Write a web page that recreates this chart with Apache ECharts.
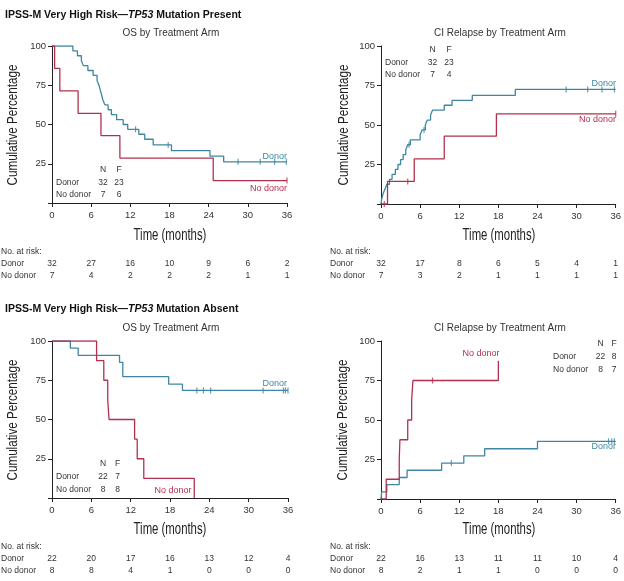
<!DOCTYPE html>
<html>
<head>
<meta charset="utf-8">
<script src="https://cdn.jsdelivr.net/npm/echarts@6/dist/echarts.min.js"></script>
<style>html,body{margin:0;padding:0;background:#fff}#c{width:624px;height:581px}</style>
</head>
<body>
<div id="c"></div>
<script>
// ---------- DATA ----------
const xTicks = [0, 6, 12, 18, 24, 30, 36];

// Panel A: TP53 present, OS
const osPresDonorT = [0, 3.2, 3.9, 4.5, 4.8, 5.5, 6.3, 6.9, 7.2, 7.4, 7.6, 7.8, 8.1, 8.6, 9.1, 9.9, 10.9, 11.6, 13.3, 14.2, 15.5, 18.3, 24.2, 26.3, 36];
const osPresDonorS = [100, 96.9, 93.8, 90.6, 87.5, 84.4, 81.3, 78.1, 75, 71.9, 68.8, 65.6, 62.5, 59.4, 56.3, 53.1, 50, 46.9, 43.8, 40.6, 37.0, 33.4, 29.8, 26.2, 26.2];
const osPresDonorCens = [12.8, 17.8, 28.5, 31.9, 34.1, 35.9];
const osPresNoT = [0, 0.4, 1.2, 4.0, 7.5, 10.4, 24.7, 36];
const osPresNoS = [100, 85.7, 71.4, 57.1, 42.9, 28.6, 14.3, 14.3];
const osPresNoCens = [36];

// Panel B: TP53 present, CI relapse
const ciPresDonorT = [0, 0.1, 0.3, 0.6, 0.9, 1.3, 1.7, 2.2, 2.6, 3.0, 3.4, 3.8, 4.1, 4.5, 6.0, 6.3, 6.8, 7.1, 7.6, 7.9, 9.7, 10.9, 14.0, 20.6, 36];
const ciPresDonorV = [0, 3.1, 6.3, 9.4, 12.5, 15.6, 18.8, 21.9, 25, 28.1, 31.3, 34.4, 37.5, 40.6, 43.8, 46.9, 50, 53.1, 56.3, 59.4, 62.5, 65.6, 68.7, 72.5, 72.5];
const ciPresDonorCens = [4.3, 6.6, 28.4, 31.7, 33.9, 35.8];
const ciPresNoT = [0, 1.0, 5.1, 9.7, 17.7, 36];
const ciPresNoV = [0, 14.3, 28.6, 42.9, 57.1, 57.1];
const ciPresNoCens = [0.5, 4.1, 36];

// Panel C: TP53 absent, OS
const osAbsDonorT = [0, 2.8, 4.0, 10.3, 10.8, 17.8, 19.9, 36];
const osAbsDonorS = [100, 95.5, 90.9, 86.4, 77.3, 72.5, 68.5, 68.5];
const osAbsDonorCens = [22.1, 23.1, 24.2, 32.2, 35.3, 35.6, 36];
const osAbsNoT = [0, 6.8, 7.9, 8.5, 8.7, 12.6, 13.0, 14.0, 21.7];
const osAbsNoS = [100, 87.5, 75, 62.5, 50, 37.5, 25, 12.5, 0];
const osAbsNoCens = [];

// Panel D: TP53 absent, CI relapse
const ciAbsDonorT = [0, 0.1, 0.9, 2.8, 4.0, 9.3, 12.7, 15.9, 24.0, 36];
const ciAbsDonorV = [0, 4.5, 9.1, 13.6, 18.2, 22.7, 27.3, 31.8, 36.5, 36.5];
const ciAbsDonorCens = [10.8, 34.9, 35.4, 35.8];
const ciAbsNoT = [0, 0.8, 2.8, 2.9, 4.1, 4.7, 4.9, 18.0];
const ciAbsNoV = [0, 12.5, 25, 37.5, 50, 62.5, 75, 87.5];
const ciAbsNoCens = [7.9];

// Numbers at risk
const riskA_donor = [32, 27, 16, 10, 9, 6, 2];
const riskA_no = [7, 4, 2, 2, 2, 1, 1];
const riskB_donor = [32, 17, 8, 6, 5, 4, 1];
const riskB_no = [7, 3, 2, 1, 1, 1, 1];
const riskC_donor = [22, 20, 17, 16, 13, 12, 4];
const riskC_no = [8, 8, 4, 1, 0, 0, 0];
const riskD_donor = [22, 16, 13, 11, 11, 10, 4];
const riskD_no = [8, 2, 1, 1, 0, 0, 0];

// N / F
const nfA = { donor: [32, 23], no: [7, 6] };
const nfB = { donor: [32, 23], no: [7, 4] };
const nfC = { donor: [22, 7], no: [8, 8] };
const nfD = { donor: [22, 8], no: [8, 7] };

const titleTop = ['IPSS-M Very High Risk\u2014', 'TP53', ' Mutation Present'];
const titleBottom = ['IPSS-M Very High Risk\u2014', 'TP53', ' Mutation Absent'];
const subOS = 'OS by Treatment Arm';
const subCI = 'CI Relapse by Treatment Arm';

// ---------- STYLE ----------
const TEAL = '#3f86a2';
const RED = '#b3304d';
const AX = '#222';
const TXT = '#333';
const FONT = '"Liberation Sans", Arial, sans-serif';

const grids = [
  { left: 52, top: 46, width: 235, height: 157 },
  { left: 381, top: 46, width: 236, height: 158 },
  { left: 52, top: 341, width: 236, height: 157 },
  { left: 381, top: 341, width: 236, height: 158 }
];

function zip(t, v) { return t.map((x, i) => [x, v[i]]); }
function stepAt(t, v, x) { let y = v[0]; for (let i = 0; i < t.length; i++) { if (t[i] <= x) y = v[i]; } return y; }

function curve(gi, t, v, color) {
  return { type: 'line', xAxisIndex: gi, yAxisIndex: gi, data: zip(t, v), step: 'end', showSymbol: false, symbol: 'none',
    lineStyle: { color, width: 1.3 }, animation: false, z: 3 };
}
function cens(gi, t, v, ct, color) {
  return { type: 'scatter', xAxisIndex: gi, yAxisIndex: gi, data: ct.map(x => [x, stepAt(t, v, x)]),
    symbol: 'rect', symbolSize: [1.2, 6], itemStyle: { color }, animation: false, z: 4 };
}

const series = [
  curve(0, osPresDonorT, osPresDonorS, TEAL), cens(0, osPresDonorT, osPresDonorS, osPresDonorCens, TEAL),
  curve(0, osPresNoT, osPresNoS, RED), cens(0, osPresNoT, osPresNoS, osPresNoCens, RED),
  curve(1, ciPresDonorT, ciPresDonorV, TEAL), cens(1, ciPresDonorT, ciPresDonorV, ciPresDonorCens, TEAL),
  curve(1, ciPresNoT, ciPresNoV, RED), cens(1, ciPresNoT, ciPresNoV, ciPresNoCens, RED),
  curve(2, osAbsDonorT, osAbsDonorS, TEAL), cens(2, osAbsDonorT, osAbsDonorS, osAbsDonorCens, TEAL),
  curve(2, osAbsNoT, osAbsNoS, RED), cens(2, osAbsNoT, osAbsNoS, osAbsNoCens, RED),
  curve(3, ciAbsDonorT, ciAbsDonorV, TEAL), cens(3, ciAbsDonorT, ciAbsDonorV, ciAbsDonorCens, TEAL),
  curve(3, ciAbsNoT, ciAbsNoV, RED), cens(3, ciAbsNoT, ciAbsNoV, ciAbsNoCens, RED)
];

const xAxis = grids.map((g, i) => ({
  type: 'value', gridIndex: i, min: 0, max: 36, interval: 6,
  axisLine: { show: true, lineStyle: { color: AX, width: 1 } },
  axisTick: { show: true, length: 4, lineStyle: { color: AX } },
  axisLabel: { fontSize: 9.5, color: TXT, margin: 7, fontFamily: FONT },
  splitLine: { show: false }
}));
const yAxis = grids.map((g, i) => ({
  type: 'value', gridIndex: i, min: 0, max: 100, interval: 25,
  axisLine: { show: true, lineStyle: { color: AX, width: 1 } },
  axisTick: { show: true, length: 4, lineStyle: { color: AX } },
  axisLabel: { fontSize: 9.5, color: TXT, margin: 6, fontFamily: FONT, formatter: v => (v === 0 ? '' : String(v)) },
  splitLine: { show: false }
}));

const chart = echarts.init(document.getElementById('c'), null, { renderer: 'canvas' });
chart.setOption({ animation: false, backgroundColor: '#fff', grid: grids, xAxis, yAxis, series });

// ---------- TEXT ----------
function txt(x, y, text, o) {
  o = o || {};
  return { type: 'text', x, y, scaleX: o.sx || 1, rotation: o.rot || 0, silent: true, z: 10,
    style: { text, fill: o.color || TXT, font: (o.weight || 'normal') + ' ' + (o.size || 8.5) + 'px ' + FONT,
      textAlign: o.align || 'left', align: o.align || 'left', textVerticalAlign: 'middle', verticalAlign: 'middle' } };
}
function titleEl(y, parts) {
  return { type: 'text', x: 5, y, silent: true, z: 10,
    style: { text: '{b|' + parts[0] + '}{i|' + parts[1] + '}{b|' + parts[2] + '}', fill: '#111',
      textVerticalAlign: 'middle', verticalAlign: 'middle',
      rich: { b: { font: 'bold 10.5px ' + FONT, fill: '#111' }, i: { font: 'italic bold 10.5px ' + FONT, fill: '#111' } } } };
}

const g = [];
g.push(titleEl(15, titleTop));
g.push(titleEl(309, titleBottom));
g.push(txt(171, 33, subOS, { size: 10, align: 'center' }));
g.push(txt(500, 33, subCI, { size: 10, align: 'center' }));
g.push(txt(171, 328, subOS, { size: 10, align: 'center' }));
g.push(txt(500, 328, subCI, { size: 10, align: 'center' }));

// axis names
[[13, 125], [344, 125], [13, 420], [343, 420]].forEach(p => g.push(txt(p[0], p[1], 'Cumulative Percentage', { size: 15.5, align: 'center', rot: Math.PI / 2, sx: 0.75, color: '#222' })));
[[170, 236], [499, 236], [170, 530], [499, 530]].forEach(p => g.push(txt(p[0], p[1], 'Time (months)', { size: 16, align: 'center', sx: 0.71, color: '#222' })));

// N/F tables
function nf(labelX, nX, fX, y0, dy, d) {
  g.push(txt(nX, y0, 'N', { align: 'center' }));
  g.push(txt(fX, y0, 'F', { align: 'center' }));
  g.push(txt(labelX, y0 + dy, 'Donor'));
  g.push(txt(nX, y0 + dy, String(d.donor[0]), { align: 'center' }));
  g.push(txt(fX, y0 + dy, String(d.donor[1]), { align: 'center' }));
  g.push(txt(labelX, y0 + 2 * dy, 'No donor'));
  g.push(txt(nX, y0 + 2 * dy, String(d.no[0]), { align: 'center' }));
  g.push(txt(fX, y0 + 2 * dy, String(d.no[1]), { align: 'center' }));
}
nf(56, 103, 119, 170, 12.5, nfA);
nf(385, 432.5, 449, 50, 12.5, nfB);
nf(56, 103, 117.5, 464, 13, nfC);
nf(553, 600.5, 614, 344, 13, nfD);

// curve labels
g.push(txt(287, 157, 'Donor', { color: TEAL, size: 9, align: 'right' }));
g.push(txt(287, 189, 'No donor', { color: RED, size: 9, align: 'right' }));
g.push(txt(616, 84, 'Donor', { color: TEAL, size: 9, align: 'right' }));
g.push(txt(616, 120, 'No donor', { color: RED, size: 9, align: 'right' }));
g.push(txt(287, 384, 'Donor', { color: TEAL, size: 9, align: 'right' }));
g.push(txt(173, 491, 'No donor', { color: RED, size: 9, align: 'center' }));
g.push(txt(481, 354, 'No donor', { color: RED, size: 9, align: 'center' }));
g.push(txt(616, 447, 'Donor', { color: TEAL, size: 9, align: 'right' }));

// at-risk tables
function risk(gi, labelX, y0, donor, no) {
  g.push(txt(labelX, y0, 'No. at risk:'));
  g.push(txt(labelX, y0 + 12, 'Donor'));
  g.push(txt(labelX, y0 + 24, 'No donor'));
  xTicks.forEach((t, i) => {
    const px = chart.convertToPixel({ xAxisIndex: gi }, t);
    g.push(txt(px, y0 + 12, String(donor[i]), { align: 'center' }));
    g.push(txt(px, y0 + 24, String(no[i]), { align: 'center' }));
  });
}
risk(0, 1, 252, riskA_donor, riskA_no);
risk(1, 330, 252, riskB_donor, riskB_no);
risk(2, 1, 547, riskC_donor, riskC_no);
risk(3, 330, 547, riskD_donor, riskD_no);

chart.setOption({ graphic: { elements: g } });
</script>
</body>
</html>
